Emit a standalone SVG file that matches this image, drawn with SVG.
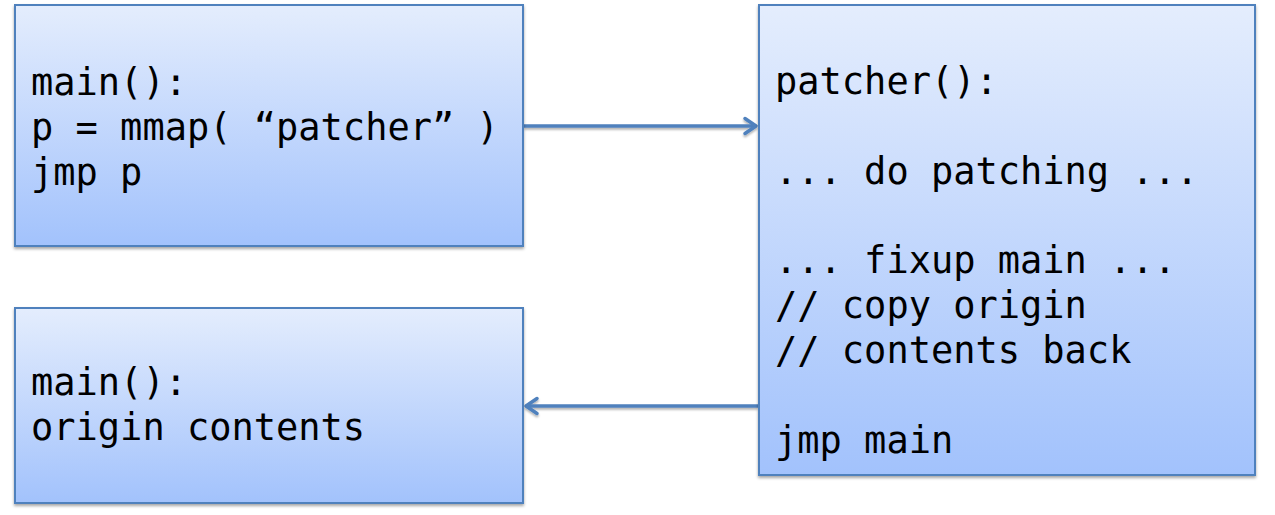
<svg xmlns="http://www.w3.org/2000/svg" width="1275" height="515" viewBox="0 0 1275 515">
  <defs>
    <linearGradient id="boxFill" x1="0" y1="0" x2="0" y2="1">
      <stop offset="0" stop-color="#e4edfd"/>
      <stop offset="1" stop-color="#a2c2fc"/>
    </linearGradient>
    <filter id="shadow" x="-5%" y="-5%" width="110%" height="115%">
      <feDropShadow dx="0" dy="2" stdDeviation="1.5" flood-color="#000" flood-opacity="0.35"/>
    </filter>
    <filter id="lineShadow" filterUnits="userSpaceOnUse" x="0" y="0" width="1275" height="515">
      <feDropShadow dx="0" dy="2" stdDeviation="1.2" flood-color="#000" flood-opacity="0.3"/>
    </filter>
    <marker id="chev" markerWidth="20" markerHeight="20" refX="15" refY="10" orient="auto" markerUnits="userSpaceOnUse">
      <path d="M4,2.5 L15,10 L4,17.5" fill="none" stroke="#4f81bd" stroke-width="3.5" stroke-linecap="round" stroke-linejoin="round"/>
    </marker>
  </defs>
  <style>
    .box { fill: url(#boxFill); stroke: #4f81bd; stroke-width: 2; filter: url(#shadow); }
    .code { font-family: "DejaVu Sans Mono", "Liberation Mono", monospace; font-size: 37px; fill: #000; }
    .conn { stroke: #4f81bd; stroke-width: 3.5; fill: none; marker-end: url(#chev); }
  </style>
  <rect width="1275" height="515" fill="#fff"/>
  <g id="connectors" filter="url(#lineShadow)">
    <line class="conn" x1="524" y1="126" x2="756" y2="126"/>
    <line class="conn" x1="758" y1="406" x2="526" y2="406"/>
  </g>
  <g id="main-before">
    <rect class="box" x="15" y="5" width="508" height="241"/>
    <text class="code" x="31" y="95">main():</text>
    <text class="code" x="31" y="140">p = mmap( “patcher” )</text>
    <text class="code" x="31" y="185">jmp p</text>
  </g>
  <g id="patcher">
    <rect class="box" x="759" y="5" width="496" height="470"/>
    <text class="code" x="775" y="94">patcher():</text>
    <text class="code" x="775" y="184">... do patching ...</text>
    <text class="code" x="775" y="273">... fixup main ...</text>
    <text class="code" x="775" y="318">// copy origin</text>
    <text class="code" x="775" y="363">// contents back</text>
    <text class="code" x="775" y="453">jmp main</text>
  </g>
  <g id="main-after">
    <rect class="box" x="15" y="308" width="508" height="195"/>
    <text class="code" x="31" y="395">main():</text>
    <text class="code" x="31" y="440">origin contents</text>
  </g>
</svg>
